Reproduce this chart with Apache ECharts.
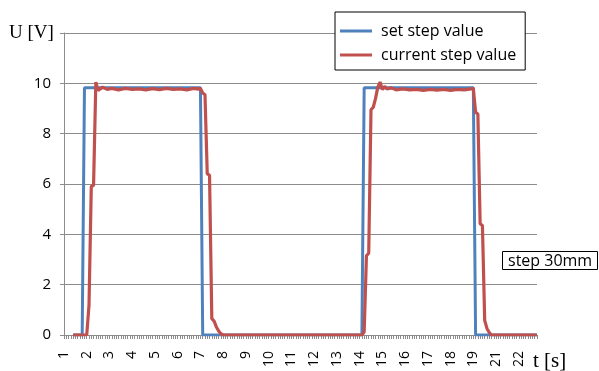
<!DOCTYPE html>
<html>
<head>
<meta charset="utf-8">
<script src="https://cdn.jsdelivr.net/npm/echarts@6/dist/echarts.min.js"></script>
<style>
  html, body { margin: 0; padding: 0; background: #fff; }
  #chart { width: 599px; height: 371px; }
</style>
</head>
<body>
<div id="chart"></div>
<script>
// Sample count along the time axis (one category per sample)
const sampleCount = 209;

// Tick labels, one every ten samples
const tickLabels = ['1', '2', '3', '4', '5', '6', '7', '8', '9', '10', '11',
  '12', '13', '14', '15', '16', '17', '18', '19', '21', '22'];

// Set step value: [sample, volts] at each corner of the step signal
const setStep = [
  [4, 0], [8, 0], [9, 9.82], [60, 9.82], [61, 0],
  [131, 0], [132, 9.82], [180, 9.82], [181, 0], [208, 0]
];

// Measured step response: [sample, volts]
const currentStep = [
  [4, 0], [10, 0], [11, 1.2], [12, 5.9], [13, 5.95], [14, 10.05], [15, 9.72],
  [17, 9.85], [19, 9.76], [21, 9.8], [24, 9.74], [27, 9.8], [30, 9.76],
  [33, 9.78], [36, 9.74], [39, 9.79], [42, 9.75], [45, 9.8], [48, 9.76],
  [51, 9.78], [54, 9.74], [57, 9.8], [59, 9.77], [60, 9.8], [61, 9.62],
  [62, 9.55], [63, 6.4], [64, 6.35], [65, 0.65], [66, 0.55], [67, 0.32],
  [68, 0.16], [69, 0.05], [70, 0],
  [131, 0], [132, 0.12], [133, 3.15], [134, 3.25], [135, 8.95], [136, 9.05],
  [137, 9.4], [138, 9.85], [139, 10.05], [140, 9.75], [141, 9.88], [142, 9.78],
  [144, 9.82], [146, 9.74], [149, 9.78], [152, 9.74], [155, 9.76], [158, 9.72],
  [161, 9.76], [164, 9.73], [167, 9.76], [170, 9.72], [173, 9.76], [176, 9.74],
  [179, 9.78], [180, 9.8], [181, 8.85], [182, 8.78], [183, 4.42], [184, 4.35],
  [185, 0.58], [186, 0.26], [187, 0.1], [188, 0], [208, 0]
];

const categories = Array.from({ length: sampleCount }, (_, i) => String(i));

const axisGray = '#8c8c8c';
const labelFont = '"Open Sans", "Noto Sans", sans-serif';

const chart = echarts.init(document.getElementById('chart'), null, { renderer: 'canvas' });

chart.setOption({
  animation: false,
  backgroundColor: '#fff',
  grid: { left: 64, right: 62, top: 33, bottom: 36, containLabel: false },
  title: {
    text: 'step 30mm',
    left: 502,
    top: 251,
    padding: [2, 6, 1, 6],
    borderColor: '#000',
    borderWidth: 1,
    backgroundColor: '#fff',
    textStyle: { fontFamily: labelFont, fontSize: 16, fontWeight: 'normal', color: '#000' }
  },
  legend: {
    orient: 'vertical',
    left: 335,
    top: 12,
    padding: [11, 9, 7, 5],
    itemGap: 8,
    itemWidth: 32,
    itemHeight: 3,
    icon: 'rect',
    backgroundColor: '#fff',
    borderColor: '#000',
    borderWidth: 1,
    borderRadius: 0,
    textStyle: { fontFamily: labelFont, fontSize: 16, color: '#000', padding: [0, 0, 0, 4] },
    data: ['set step value', 'current step value']
  },
  xAxis: {
    type: 'category',
    data: categories,
    boundaryGap: false,
    axisLine: { show: true, lineStyle: { color: axisGray, width: 1 } },
    axisTick: { show: true, interval: 0, length: 4, lineStyle: { color: axisGray } },
    axisLabel: {
      interval: 9,
      rotate: 90,
      margin: 16,
      fontFamily: labelFont,
      fontSize: 14,
      color: '#000',
      formatter: (v, i) => (i % 10 === 0 && tickLabels[i / 10] !== undefined) ? tickLabels[i / 10] : ''
    },
    splitLine: { show: false }
  },
  yAxis: {
    type: 'value',
    min: 0,
    max: 12,
    interval: 2,
    axisLine: { show: true, lineStyle: { color: axisGray, width: 1 } },
    axisTick: { show: true, length: 4, lineStyle: { color: axisGray } },
    axisLabel: {
      margin: 13,
      fontFamily: labelFont,
      fontSize: 15,
      color: '#000',
      formatter: v => (v === 12 ? '' : String(v))
    },
    splitLine: { show: true, lineStyle: { color: axisGray, width: 1 } }
  },
  graphic: [
    {
      type: 'text', left: 9, top: 24,
      style: { text: 'U [V]', font: '19px "Liberation Serif", serif', fill: '#000' }
    },
    {
      type: 'text', left: 533, top: 351,
      style: { text: 't [s]', font: '21px "Liberation Serif", serif', fill: '#000' }
    }
  ],
  series: [
    {
      name: 'set step value',
      type: 'line',
      data: setStep,
      showSymbol: false,
      symbol: 'none',
      lineStyle: { color: '#4f81bd', width: 3 },
      itemStyle: { color: '#4f81bd' },
      z: 2
    },
    {
      name: 'current step value',
      type: 'line',
      data: currentStep,
      showSymbol: false,
      symbol: 'none',
      lineStyle: { color: '#c0504d', width: 3.2 },
      itemStyle: { color: '#c0504d' },
      z: 3
    }
  ]
});
</script>
</body>
</html>
